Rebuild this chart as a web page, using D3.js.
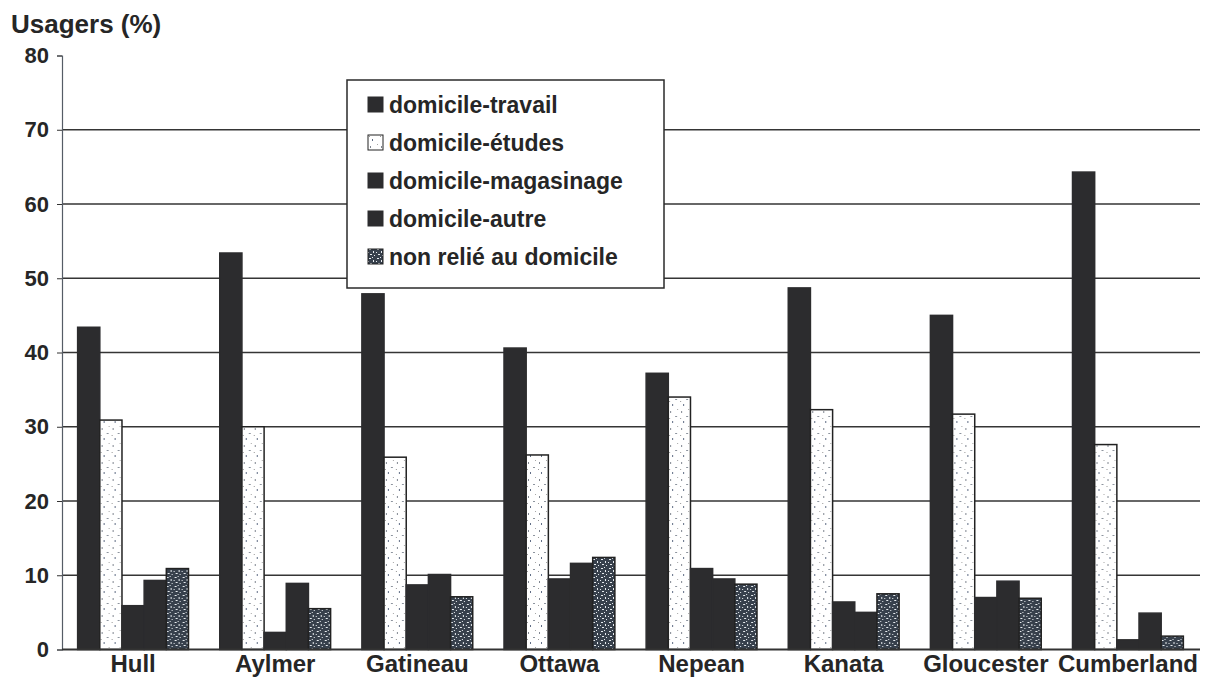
<!DOCTYPE html>
<html>
<head>
<meta charset="utf-8">
<script src="https://cdn.jsdelivr.net/npm/d3@7"></script>
<style>
  html, body { margin: 0; padding: 0; background: #fff; }
  svg { display: block; }
  text { font-family: "Liberation Sans", Arial, sans-serif; font-weight: bold; fill: #262626; }
</style>
</head>
<body>
<svg id="chart" width="1229" height="677"></svg>
<script>
// ---- data ----
const categories = ["Hull", "Aylmer", "Gatineau", "Ottawa", "Nepean", "Kanata", "Gloucester", "Cumberland"];
const seriesNames = ["domicile-travail", "domicile-études", "domicile-magasinage", "domicile-autre", "non relié au domicile"];
const travail    = [43.4, 53.4, 47.9, 40.6, 37.2, 48.7, 45.0, 64.3];
const etudes     = [30.9, 30.0, 25.9, 26.2, 34.0, 32.3, 31.7, 27.6];
const magasinage = [5.9, 2.3, 8.7, 9.5, 10.9, 6.4, 7.0, 1.3];
const autre      = [9.3, 8.9, 10.1, 11.6, 9.5, 5.0, 9.2, 4.9];
const nonRelie   = [10.9, 5.5, 7.1, 12.4, 8.8, 7.5, 6.9, 1.8];
const yTicks     = [0, 10, 20, 30, 40, 50, 60, 70, 80];
const yTitle     = "Usagers (%)";

const seriesValues = [travail, etudes, magasinage, autre, nonRelie];

// ---- layout ----
const svg = d3.select("#chart");
const axisX = 62;
const plotRight = 1200;
const y0 = 649.5, yTop = 55.5;

const x = d3.scaleBand().domain(categories).range([62, 1199]).paddingInner(0.22).paddingOuter(0.11);
const xs = d3.scaleBand().domain(d3.range(seriesNames.length)).range([0, x.bandwidth()]).padding(0);
const y = d3.scaleLinear().domain([0, 80]).range([y0, yTop]);

// ---- patterns ----
const defs = svg.append("defs");
const pE = defs.append("pattern").attr("id", "pEtudes").attr("patternUnits", "userSpaceOnUse")
  .attr("width", 11).attr("height", 17);
pE.append("rect").attr("width", 11).attr("height", 17).attr("fill", "#ffffff");
[[2,3,1,2,"#7f858f"],[7,8,2,1,"#8d949e"],[4,13,1,2,"#5f6c84"],[9,1,1,1,"#a6a6a6"],[1,10,1,1,"#979797"]].forEach(d => {
  pE.append("rect").attr("x", d[0]).attr("y", d[1]).attr("width", d[2]).attr("height", d[3]).attr("fill", d[4]);
});
const pN = defs.append("pattern").attr("id", "pNon").attr("patternUnits", "userSpaceOnUse")
  .attr("width", 8).attr("height", 9);
pN.append("rect").attr("width", 8).attr("height", 9).attr("fill", "#37404c");
[[1,1,2,1],[5,3,1,2],[2,6,2,1],[6,7,1,1],[0,4,1,1],[4,0,1,1]].forEach(d => {
  pN.append("rect").attr("x", d[0]).attr("y", d[1]).attr("width", d[2]).attr("height", d[3]).attr("fill", "#e8ecef");
});

const fills = ["#2c2c2e", "url(#pEtudes)", "#2c2c2e", "#2c2c2e", "url(#pNon)"];
const strokes = ["#2c2c2e", "#222", "#2c2c2e", "#2c2c2e", "#222"];

// ---- gridlines ----
svg.append("g").selectAll("line").data(yTicks.filter(t => t > 0 && t < 80)).join("line")
  .attr("x1", axisX).attr("x2", plotRight)
  .attr("y1", d => y(d)).attr("y2", d => y(d))
  .attr("stroke", "#353535").attr("stroke-width", 1.5);

// ---- bars ----
const groups = svg.append("g").selectAll("g").data(categories).join("g")
  .attr("transform", c => `translate(${x(c)},0)`);
groups.selectAll("rect").data((c, i) => seriesValues.map((vals, s) => ({ s, v: vals[i] }))).join("rect")
  .attr("x", d => xs(d.s))
  .attr("width", xs.bandwidth())
  .attr("y", d => y(d.v))
  .attr("height", d => y0 - y(d.v))
  .attr("fill", d => fills[d.s])
  .attr("stroke", d => strokes[d.s])
  .attr("stroke-width", 1.5);

// ---- y axis ----
const yAxis = d3.axisLeft(y).tickValues(yTicks).tickSize(5).tickPadding(8);
const gy = svg.append("g").attr("transform", `translate(${axisX},0)`).call(yAxis);
gy.select(".domain").attr("stroke", "#555c66").attr("stroke-width", 1.2);
gy.selectAll(".tick line").attr("stroke", "#333");
gy.selectAll(".tick text").style("font-size", "22px").attr("fill", "#262626")
  .style("font-family", "'Liberation Sans', Arial, sans-serif").style("font-weight", "bold");

// ---- x axis ----
svg.append("line").attr("x1", axisX).attr("x2", plotRight).attr("y1", y0).attr("y2", y0)
  .attr("stroke", "#333").attr("stroke-width", 2);
const xAxis = d3.axisBottom(x).tickSize(0).tickPadding(5);
const gx = svg.append("g").attr("transform", `translate(0,${y0})`).call(xAxis);
gx.select(".domain").remove();
gx.selectAll(".tick text").style("font-size", "24px").attr("fill", "#262626")
  .style("font-family", "'Liberation Sans', Arial, sans-serif").style("font-weight", "bold");

// ---- y title ----
svg.append("text").attr("x", 11).attr("y", 33).style("font-size", "26px").text(yTitle);

// ---- legend ----
const lg = svg.append("g");
lg.append("rect").attr("x", 347).attr("y", 80).attr("width", 317).attr("height", 208)
  .attr("fill", "#fff").attr("stroke", "#2a2a2a").attr("stroke-width", 1.5);
const items = lg.selectAll("g.item").data(seriesNames).join("g").attr("class", "item")
  .attr("transform", (d, i) => `translate(368,${105 + i * 38})`);
items.append("rect").attr("x", 0).attr("y", -8).attr("width", 15).attr("height", 15)
  .attr("fill", (d, i) => fills[i]).attr("stroke", (d, i) => strokes[i]).attr("stroke-width", 1);
items.append("text").attr("x", 21).attr("y", 0).attr("dy", "0.36em")
  .style("font-size", "23px").text(d => d);
</script>
</body>
</html>
